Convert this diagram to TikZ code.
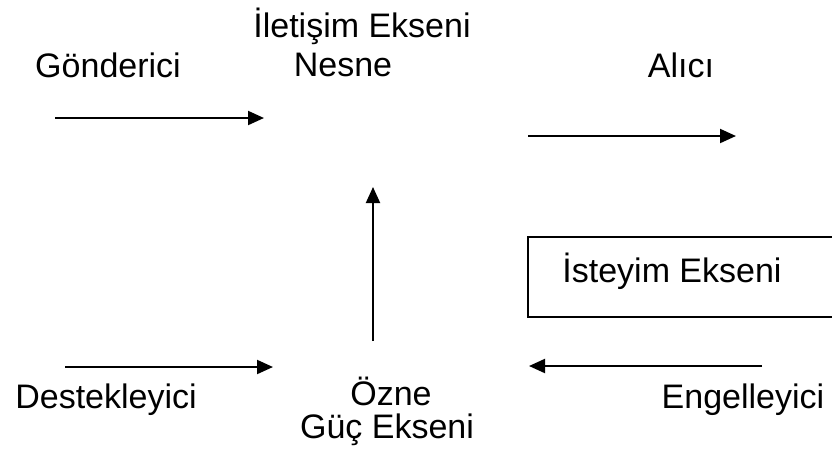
\documentclass[tikz,border=0pt]{standalone}
\usepackage{fontspec}
\setmainfont{Liberation Sans}
\usetikzlibrary{arrows.meta}

\tikzset{
  lbl/.style={anchor=base, inner sep=0pt, font=\fontsize{17}{20}\selectfont},
  axis/.style={line width=1pt, -{Triangle[length=8pt, width=7pt]}}
}

\begin{document}
\begin{tikzpicture}[x=0.5pt, y=-0.5pt]
                        \useasboundingbox (0, 0) rectangle (832, 463);

                        % labels
                        \node[lbl] (gonderici) at (108, 77) {Gönderici};
                        \node[lbl] (iletisim) at (362, 37) {İletişim Ekseni};
                        \node[lbl] (nesne) at (343, 76) {Nesne};
                        \node[lbl] (alici) at (681, 77) {Alıcı};
                        \node[lbl] (destek) at (106, 408) {Destekleyici};
                        \node[lbl] (ozne) at (391, 405) {Özne};
                        \node[lbl] (guc) at (387, 438) {Güç Ekseni};
                        \node[lbl] (engel) at (743, 408) {Engelleyici};

                        % box (runs past the right edge)
                        \draw[line width=0.8pt] (840, 237) -- (528, 237) -- (528, 317) -- (840, 317);
                        \node[lbl, anchor=base west] (isteyim) at (562, 282) {İsteyim Ekseni};

                        % arrows
                        \coordinate (g1) at (55, 118);
                        \coordinate (g2) at (264, 118);
                        \coordinate (a1) at (528, 136);
                        \coordinate (a2) at (736, 136);
                        \coordinate (v1) at (373, 341);
                        \coordinate (v2) at (373, 187);
                        \coordinate (d1) at (65, 367);
                        \coordinate (d2) at (273, 367);
                        \coordinate (e1) at (762, 366);
                        \coordinate (e2) at (529, 366);

                        \draw[axis] (g1) -- (g2);
                        \draw[axis] (a1) -- (a2);
                        \draw[axis] (v1) -- (v2);
                        \draw[axis] (d1) -- (d2);
                        \draw[axis] (e1) -- (e2);
\end{tikzpicture}
\end{document}
